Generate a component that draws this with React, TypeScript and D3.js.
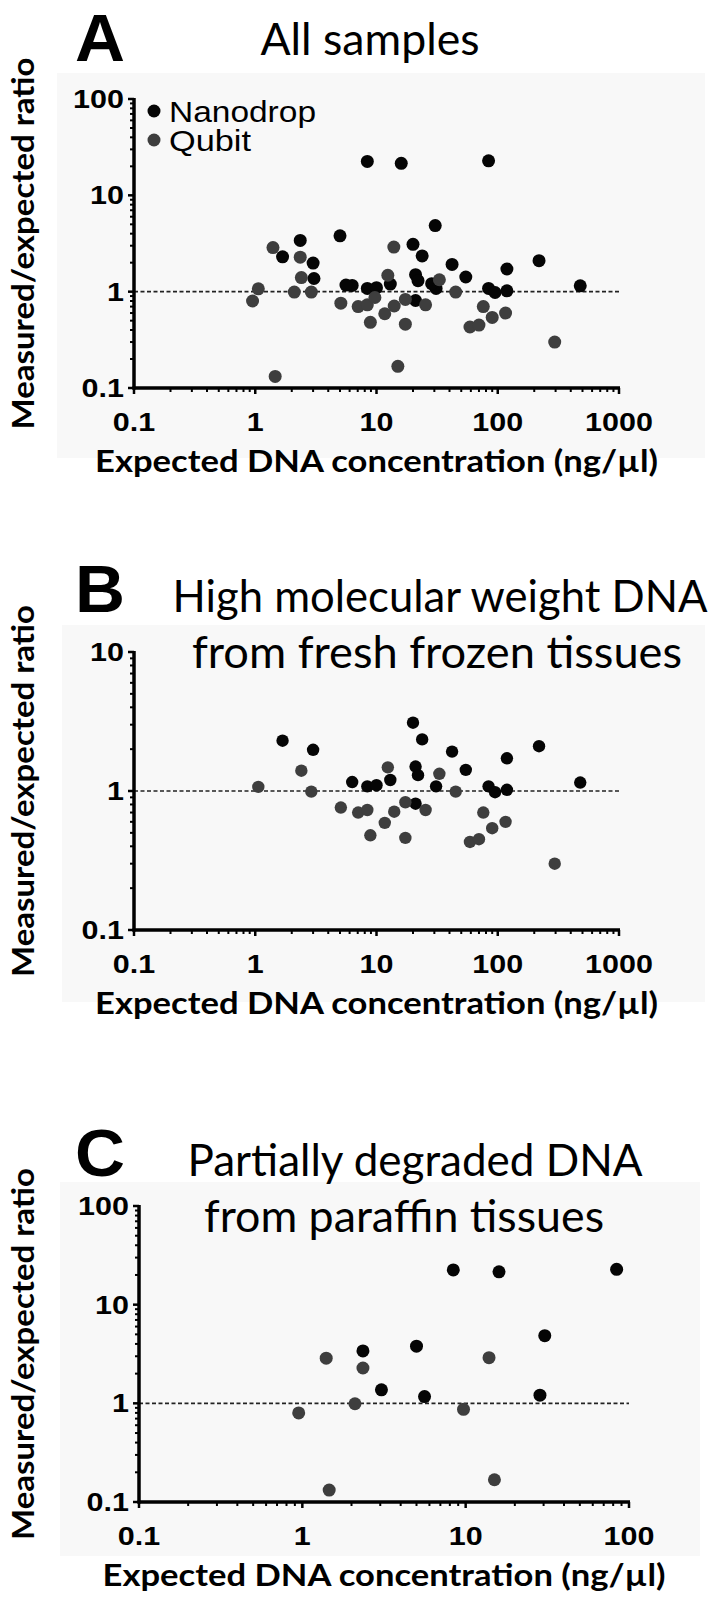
import React from "react";
import * as d3 from "d3";

// ---- Data ----
// High molecular weight DNA (fresh frozen tissues)
const nanodropHmwX = [1.68, 3.0, 6.3, 8.4, 10, 13, 20, 23.8, 21, 22, 21, 31, 42, 54.5, 84, 95, 119, 119, 219, 479];
const nanodropHmwY = [2.3, 1.98, 1.16, 1.08, 1.1, 1.2, 3.1, 2.35, 1.5, 1.3, 0.81, 1.08, 1.92, 1.42, 1.08, 0.98, 1.72, 1.02, 2.1, 1.15];
const qubitHmwX = [1.06, 2.4, 2.9, 5.08, 7.06, 8.4, 8.9, 11.7, 12.4, 14, 17.3, 17.3, 25.4, 33, 45, 59, 70, 76, 90, 116, 295];
const qubitHmwY = [1.07, 1.4, 0.99, 0.76, 0.7, 0.73, 0.48, 0.59, 1.48, 0.71, 0.83, 0.46, 0.73, 1.33, 0.99, 0.43, 0.45, 0.7, 0.54, 0.6, 0.3];
// Partially degraded DNA (paraffin tissues)
const nanodropFfpeX = [2.35, 3.05, 5.0, 5.6, 8.4, 16, 84, 30.5, 28.5];
const nanodropFfpeY = [3.4, 1.37, 3.8, 1.17, 22.5, 21.5, 22.8, 4.85, 1.21];
const qubitFfpeX = [0.95, 1.4, 1.46, 2.1, 2.35, 9.7, 13.9, 15];
const qubitFfpeY = [0.8, 2.87, 0.132, 0.99, 2.28, 0.87, 2.9, 0.168];

const seriesNames = ["Nanodrop", "Qubit"];
const seriesColors = ["#050505", "#3e3e3e"];
const xTicksAB = [0.1, 1, 10, 100, 1000];
const xTicksC = [0.1, 1, 10, 100];
const yTicksAC = [0.1, 1, 10, 100];
const yTicksB = [0.1, 1, 10];
const xTitle = "Expected DNA concentration (ng/µl)";
const yTitle = "Measured/expected ratio";

const zip = (xs: number[], ys: number[]) => xs.map((x, i) => ({ x, y: ys[i] }));

type PanelProps = {
  letter: string;
  titleLines: { text: string; cx: number; y: number; len: number }[];
  letterY: number;
  xDomain: [number, number];
  xRange: [number, number];
  yDomain: [number, number];
  yRange: [number, number];
  xTicks: number[];
  yTicks: number[];
  nano: { x: number; y: number }[];
  qubit: { x: number; y: number }[];
  legend: boolean;
  r: number;
  bg: [number, number, number, number];
};

function minorTicks(domain: [number, number]) {
  const out: number[] = [];
  const lo = Math.round(Math.log10(domain[0]));
  const hi = Math.round(Math.log10(domain[1]));
  for (let e = lo; e < hi; e++) {
    for (let m = 2; m <= 9; m++) out.push(m * Math.pow(10, e));
  }
  return out;
}

const fmt = (v: number) => (v < 1 ? String(v) : String(Math.round(v)));
const TICK_FS = 25;
// widen tick labels like the reference (Arial-bold metrics x 1.25)
const labelLen = (s: string) =>
  s.split("").reduce((a, c) => a + (c === "." ? 0.278 : 0.556), 0) * TICK_FS * 1.22;

function Panel(p: PanelProps) {
  const x = d3.scaleLog().domain(p.xDomain).range(p.xRange);
  const y = d3.scaleLog().domain(p.yDomain).range(p.yRange);
  const x0 = p.xRange[0];
  const x1 = p.xRange[1];
  const yb = p.yRange[0];
  const yt = p.yRange[1];
  const tickFont = { fontFamily: "'Liberation Sans', Arial, sans-serif", fontWeight: 700, fontSize: TICK_FS };
  return (
    <g>
      <rect x={p.bg[0]} y={p.bg[1]} width={p.bg[2] - p.bg[0]} height={p.bg[3] - p.bg[1]} fill="#f8f8f8" />
      <text x={75} y={p.letterY} textLength={50} lengthAdjust="spacingAndGlyphs"
        style={{ fontFamily: "'Liberation Sans', Arial, sans-serif", fontWeight: 700, fontSize: 66 }}>
        {p.letter}
      </text>
      {p.titleLines.map((t, i) => (
        <text key={i} x={t.cx} y={t.y} textAnchor="middle" textLength={t.len} lengthAdjust="spacingAndGlyphs"
          style={{ fontFamily: "Lato, 'Open Sans', sans-serif", fontSize: 44 }}>
          {t.text}
        </text>
      ))}
      {/* reference line at ratio 1 */}
      <line x1={x0} x2={x1} y1={y(1)} y2={y(1)} stroke="#222" strokeWidth={1.6} strokeDasharray="4,2.5" />
      {/* y axis */}
      {minorTicks(p.yDomain).map((v, i) => (
        <line key={"ym" + i} x1={x0 - 4} x2={x0} y1={y(v)} y2={y(v)} stroke="#000" strokeWidth={2} />
      ))}
      {p.yTicks.map((v, i) => (
        <g key={"yt" + i}>
          <line x1={x0 - 6} x2={x0} y1={y(v)} y2={y(v)} stroke="#000" strokeWidth={2.5} />
          <text x={x0 - 10} y={y(v)} dy="0.36em" textAnchor="end" textLength={labelLen(fmt(v))}
            lengthAdjust="spacingAndGlyphs" style={tickFont}>{fmt(v)}</text>
        </g>
      ))}
      <line x1={x0} x2={x0} y1={yt - 1} y2={yb + 1.5} stroke="#000" strokeWidth={3.5} />
      {/* x axis */}
      {minorTicks(p.xDomain).map((v, i) => (
        <line key={"xm" + i} x1={x(v)} x2={x(v)} y1={yb} y2={yb + 4} stroke="#000" strokeWidth={2} />
      ))}
      {p.xTicks.map((v, i) => (
        <g key={"xt" + i}>
          <line x1={x(v)} x2={x(v)} y1={yb} y2={yb + 6} stroke="#000" strokeWidth={2.5} />
          <text x={x(v)} y={yb + 43} textAnchor="middle" textLength={labelLen(fmt(v))}
            lengthAdjust="spacingAndGlyphs" style={tickFont}>{fmt(v)}</text>
        </g>
      ))}
      <line x1={x0 - 1.5} x2={x1 + 1} y1={yb} y2={yb} stroke="#000" strokeWidth={3.5} />
      {/* axis titles */}
      <text x={(x0 + x1) / 2} y={yb + 84} textAnchor="middle" textLength={563} lengthAdjust="spacingAndGlyphs"
        style={{ fontFamily: "Lato, 'Open Sans', sans-serif", fontWeight: 700, fontSize: 31 }}>
        {xTitle}
      </text>
      <text transform={`translate(34,${(yt + yb) / 2}) rotate(-90)`} textAnchor="middle" textLength={372}
        lengthAdjust="spacingAndGlyphs" style={{ fontFamily: "Lato, 'Open Sans', sans-serif", fontWeight: 700, fontSize: 31 }}>
        {yTitle}
      </text>
      {/* points */}
      {p.nano.map((d, i) => (
        <circle key={"n" + i} cx={x(d.x)} cy={y(d.y)} r={p.r} fill={seriesColors[0]} />
      ))}
      {p.qubit.map((d, i) => (
        <circle key={"q" + i} cx={x(d.x)} cy={y(d.y)} r={p.r} fill={seriesColors[1]} />
      ))}
      {p.legend &&
        seriesNames.map((n, i) => (
          <g key={"lg" + i}>
            <circle cx={154} cy={yt + 12 + i * 29} r={6.5} fill={seriesColors[i]} />
            <text x={169} y={yt + 12 + i * 29} dy="0.36em" textLength={i === 0 ? 147 : 82}
              lengthAdjust="spacingAndGlyphs"
              style={{ fontFamily: "'Liberation Sans', Arial, sans-serif", fontSize: 30 }}>
              {n}
            </text>
          </g>
        ))}
    </g>
  );
}

export default function App() {
  const nanoAll = [...zip(nanodropHmwX, nanodropHmwY), ...zip(nanodropFfpeX, nanodropFfpeY)];
  const qubitAll = [...zip(qubitHmwX, qubitHmwY), ...zip(qubitFfpeX, qubitFfpeY)];
  return (
    <svg width={714} height={1606} style={{ position: "absolute", left: 0, top: 0, background: "#fff" }}>
      <Panel
        letter="A"
        letterY={61}
        titleLines={[{ text: "All samples", cx: 370, y: 55, len: 219 }]}
        xDomain={[0.1, 1000]}
        xRange={[134, 619]}
        yDomain={[0.1, 100]}
        yRange={[388, 99]}
        xTicks={xTicksAB}
        yTicks={yTicksAC}
        nano={nanoAll}
        qubit={qubitAll}
        legend={true}
        r={6.5}
        bg={[57, 73, 705, 458]}
      />
      <Panel
        letter="B"
        letterY={612}
        titleLines={[
          { text: "High molecular weight DNA", cx: 440, y: 612, len: 535 },
          { text: "from fresh frozen tissues", cx: 437, y: 668, len: 490 },
        ]}
        xDomain={[0.1, 1000]}
        xRange={[134, 619]}
        yDomain={[0.1, 10]}
        yRange={[930, 652]}
        xTicks={xTicksAB}
        yTicks={yTicksB}
        nano={zip(nanodropHmwX, nanodropHmwY)}
        qubit={zip(qubitHmwX, qubitHmwY)}
        legend={false}
        r={6.2}
        bg={[62, 625, 705, 1002]}
      />
      <Panel
        letter="C"
        letterY={1176}
        titleLines={[
          { text: "Partially degraded DNA", cx: 415, y: 1176, len: 455 },
          { text: "from paraffin tissues", cx: 404, y: 1232, len: 400 },
        ]}
        xDomain={[0.1, 100]}
        xRange={[139, 629]}
        yDomain={[0.1, 100]}
        yRange={[1502, 1206]}
        xTicks={xTicksC}
        yTicks={yTicksAC}
        nano={zip(nanodropFfpeX, nanodropFfpeY)}
        qubit={zip(qubitFfpeX, qubitFfpeY)}
        legend={false}
        r={6.5}
        bg={[60, 1182, 700, 1556]}
      />
    </svg>
  );
}
